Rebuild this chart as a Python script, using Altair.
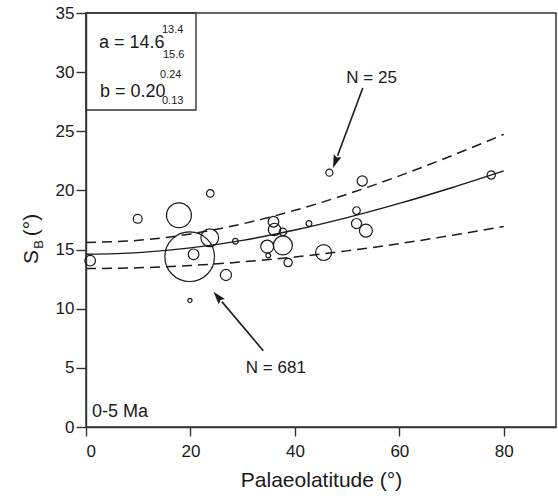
import altair as alt
import pandas as pd
import numpy as np

# ---------------- data ----------------
lat = [0.8, 9.9, 17.8, 23.8, 19.85, 20.6, 23.7, 28.6, 26.8, 19.9,
       35.9, 36.1, 37.7, 42.7, 34.7, 37.7, 34.9, 38.7, 45.5, 46.6,
       52.9, 51.8, 51.8, 53.6, 77.6]
sb = [14.06, 17.6, 17.9, 19.75, 14.4, 14.6, 16.0, 15.7, 12.85, 10.7,
      17.35, 16.7, 16.5, 17.2, 15.25, 15.35, 14.5, 13.9, 14.75, 21.5,
      20.8, 18.3, 17.2, 16.6, 21.3]
nsites = [50, 37, 211, 28, 681, 50, 119, 18, 54, 10,
          50, 65, 28, 18, 70, 133, 13, 33, 99, 25,
          46, 28, 46, 70, 33]

fit_lat = [0, 10, 20, 30, 40, 50, 60, 70, 80]
fit_mid = [14.6, 14.74, 15.14, 15.78, 16.65, 17.70, 18.90, 20.23, 21.66]
fit_up = [15.6, 15.78, 16.32, 17.18, 18.32, 19.68, 21.23, 22.93, 24.74]
fit_lo = [13.4, 13.46, 13.65, 13.96, 14.37, 14.89, 15.50, 16.20, 16.96]

arrow_text = ["N = 25", "N = 681"]
arrow_tail_x = [53.0, 33.95]
arrow_tail_y = [28.66, 6.45]
arrow_tip_x = [47.3, 24.4]
arrow_tip_y = [21.9, 11.44]
label_x = [54.7, 36.35]
label_y = [29.5, 5.0]

x_ticks = [0, 20, 40, 60, 80]
y_ticks = [0, 5, 10, 15, 20, 25, 30, 35]

# ---------------- layout ----------------
W, H = 470, 414
XMAX, YMAX = 90, 35
FONT = "Liberation Sans"
INK = "#1a1a1a"
LINE = "#333333"

pts = pd.DataFrame({"lat": lat, "sb": sb, "n": nsites})
curves = pd.DataFrame({
    "lat": fit_lat * 3,
    "sb": fit_mid + fit_up + fit_lo,
    "kind": ["mid"] * 9 + ["up"] * 9 + ["lo"] * 9,
})

x_scale = alt.Scale(domain=[0, XMAX], nice=False, zero=False)
y_scale = alt.Scale(domain=[0, YMAX], nice=False, zero=False)
X = alt.X("lat:Q", scale=x_scale,
          axis=alt.Axis(values=x_ticks, title="Palaeolatitude (°)"))
Y = alt.Y("sb:Q", scale=y_scale, axis=alt.Axis(values=y_ticks, title=None))

circles = alt.Chart(pts).mark_point(
    shape="circle", filled=False, color=INK, strokeWidth=1.2, opacity=1
).encode(
    x=X, y=Y,
    size=alt.Size("n:Q", legend=None,
                  scale=alt.Scale(type="pow", exponent=1.18,
                                  domain=[0, 681], range=[0, 2463])),
)

solid = alt.Chart(curves[curves.kind == "mid"]).mark_line(
    color=INK, strokeWidth=1.4, interpolate="monotone"
).encode(x=X, y=Y)

dashed = alt.Chart(curves[curves.kind != "mid"]).mark_line(
    color=INK, strokeWidth=1.5, strokeDash=[10, 6], interpolate="monotone"
).encode(x=X, y=Y, detail="kind:N")

# arrows
pxx, pxy = W / XMAX, H / YMAX
heads = []
for tx, ty, hx, hy in zip(arrow_tail_x, arrow_tail_y, arrow_tip_x, arrow_tip_y):
    dx = (hx - tx) * pxx
    dy = -(hy - ty) * pxy
    L = np.hypot(dx, dy)
    ux, uy = dx / L, dy / L
    ang = np.degrees(np.arctan2(ux, -uy)) % 360
    r = 6.5
    cx = hx - r * ux / pxx
    cy = hy + r * uy / pxy
    heads.append((cx, cy, ang, hx - 2 * r * ux / pxx, hy + 2 * r * uy / pxy))

arr = pd.DataFrame({
    "x": arrow_tail_x, "y": arrow_tail_y,
    "x2": [h[3] for h in heads], "y2": [h[4] for h in heads],
})
shafts = alt.Chart(arr).mark_rule(color=INK, strokeWidth=1.6).encode(
    x=alt.X("x:Q", scale=x_scale), y=alt.Y("y:Q", scale=y_scale),
    x2="x2:Q", y2="y2:Q")

hd = pd.DataFrame({"x": [h[0] for h in heads], "y": [h[1] for h in heads],
                   "ang": [h[2] for h in heads]})
arrowheads = alt.Chart(hd).mark_point(
    shape="M0,-1L0.62,1L0,0.7L-0.62,1Z", filled=True, color=INK, size=169, opacity=1
).encode(
    x=alt.X("x:Q", scale=x_scale), y=alt.Y("y:Q", scale=y_scale),
    angle=alt.Angle("ang:Q", scale=None))

lab = pd.DataFrame({"x": label_x, "y": label_y, "t": arrow_text})
labels = alt.Chart(lab).mark_text(
    font=FONT, fontSize=17, color=INK, align="center", baseline="middle"
).encode(x=alt.X("x:Q", scale=x_scale), y=alt.Y("y:Q", scale=y_scale), text="t:N")

one = pd.DataFrame({"d": [0]})


def txt(s, x, y, size, align="left", baseline="alphabetic", angle=0):
    kw = dict(font=FONT, fontSize=size, color=INK, align=align, baseline=baseline)
    if angle:
        kw["angle"] = angle
    return alt.Chart(one).mark_text(**kw).encode(
        x=alt.value(x), y=alt.value(y), text=alt.value(s))


box = alt.Chart(one).mark_rect(fill=None, stroke=LINE, strokeWidth=1.4).encode(
    x=alt.value(0), x2=alt.value(110), y=alt.value(0), y2=alt.value(97))

annot = [
    box,
    txt("a = 14.6", 13, 35, 18),
    txt("13.4", 76, 20, 11),
    txt("15.6", 77, 45, 11),
    txt("b = 0.20", 14, 84, 18),
    txt("0.24", 74, 65, 11),
    txt("0.13", 76, 91, 11),
    txt("0-5 Ma", 6, 404, 18),
    txt("S", -48, 244, 21, align="center", angle=270),
    txt("B", -43, 231.5, 13, align="center", angle=270),
    txt("(°)", -48, 212, 21, align="center", angle=270),
]

chart = alt.layer(dashed, solid, circles, shafts, arrowheads, labels, *annot).properties(
    width=W, height=H,
    autosize=alt.AutoSizeParams(type="none"),
    padding={"left": 86, "top": 13, "right": 2, "bottom": 69},
).configure_axis(
    grid=False,
    labelFont=FONT, labelFontSize=17, labelColor=INK,
    titleFont=FONT, titleFontSize=21, titleFontWeight="normal", titleColor=INK,
    domainColor=LINE, tickColor=LINE, domainWidth=1.4, tickWidth=1.4,
).configure_axisX(
    tickSize=9, labelPadding=7, titlePadding=10,
).configure_axisY(
    tickSize=10, labelPadding=2,
).configure_view(
    stroke=LINE, strokeWidth=1.5,
)

chart.save("out.html", embed_options={"renderer": "svg", "actions": False})
